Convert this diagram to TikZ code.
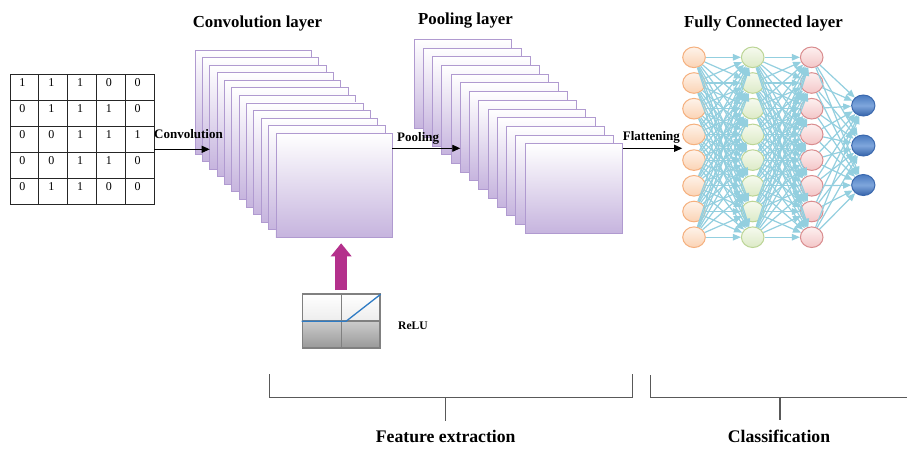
\documentclass[tikz,border=0pt]{standalone}
\usepackage{fontspec}
\setmainfont{Liberation Serif}
\usetikzlibrary{arrows.meta,shapes.geometric}
\definecolor{stackdraw}{HTML}{B09AD0}
\definecolor{stackfill}{HTML}{C6B4DE}
\definecolor{fcblue}{HTML}{93CFDF}
\definecolor{odraw}{HTML}{F5B07E}
\definecolor{otop}{HTML}{FEF3EA}
\definecolor{obot}{HTML}{FBD3B4}
\definecolor{gdraw}{HTML}{BBD595}
\definecolor{gtop}{HTML}{F6FAEF}
\definecolor{gbot}{HTML}{DCEAC6}
\definecolor{pdraw}{HTML}{D98C8E}
\definecolor{ptop}{HTML}{FDF0F0}
\definecolor{pbot}{HTML}{F3C6C7}
\definecolor{bdraw}{HTML}{3A68AE}
\definecolor{btop}{HTML}{4A7BC0}
\definecolor{bmid}{HTML}{7FA6DC}
\definecolor{bbot}{HTML}{3563AA}
\definecolor{relublue}{HTML}{2E7BC4}
\definecolor{relumag}{HTML}{B4308C}
\begin{document}
\begin{tikzpicture}[x=1pt,y=-1pt,
  cell/.style={draw=black!85,line width=0.8pt,minimum width=28.8pt,minimum height=26pt,inner sep=0,outer sep=0,anchor=north west},
  digit/.style={font=\fontsize{12}{14}\selectfont,inner sep=0},
  layerbox/.style={draw=stackdraw,line width=0.9pt,top color=white,bottom color=stackfill,inner sep=0,outer sep=0,anchor=north west},
  title/.style={font=\bfseries\fontsize{16.8}{20}\selectfont,anchor=base,inner sep=0},
  small/.style={font=\bfseries\fontsize{13}{15}\selectfont,anchor=base west,inner sep=0},
  big/.style={font=\bfseries\fontsize{17.7}{20}\selectfont,anchor=base,inner sep=0},
  arr/.style={-{Triangle[length=8pt,width=7pt]},line width=0.9pt,black},
  neuron/.style={ellipse,minimum width=22.6pt,minimum height=20.6pt,inner sep=0,line width=1pt},
  fc/.style={draw=fcblue,line width=1.2pt,-{Triangle[length=8pt,width=6.5pt]}},
  bracket/.style={draw=black!65,line width=1.2pt}
]
\useasboundingbox (0,0) rectangle (907,448);
\fill[white] (0,0) rectangle (907,448);

% input matrix
\foreach \r in {0,...,4}
  \foreach \c in {0,...,4}
    \node[cell] (m\r\c) at (10+28.8*\c,74+26*\r) {};
\foreach \row [count=\r from 0] in {{1,1,1,0,0},{0,1,1,1,0},{0,0,1,1,1},{0,0,1,1,0},{0,1,1,0,0}}
  \foreach \v [count=\c from 0] in \row
    \node[digit] (d\r\c) at (10+28.8*\c+12.5,74+26*\r+9) {\v};

% convolution stack
\foreach \i in {0,...,11}
  \node[layerbox,minimum width=116.5pt,minimum height=104pt] (conv\i) at (195+7.36*\i,50+7.57*\i) {};
% pooling stack
\foreach \i in {0,...,12}
  \node[layerbox,minimum width=97.7pt,minimum height=89.3pt] (pool\i) at (414+9.25*\i,39.3+8.72*\i) {};

% titles
\node[title] (tconv) at (257.5,27.3) {Convolution layer};
\node[title] (tpool) at (465.5,24) {Pooling layer};
\node[title] (tfc) at (763.5,27.3) {Fully Connected layer};

% fully connected network
\foreach \i in {0,...,7} {
  \node[neuron,draw=odraw,top color=otop,bottom color=obot] (o\i) at (694,57.3+25.7*\i) {};
  \node[neuron,draw=gdraw,top color=gtop,bottom color=gbot] (g\i) at (752.7,57.3+25.7*\i) {};
  \node[neuron,draw=pdraw,top color=ptop,bottom color=pbot] (p\i) at (811.7,57.3+25.7*\i) {};
}
\foreach \i/\yy in {0/105.5,1/145.5,2/185}
  \node[neuron,minimum width=23.3pt,minimum height=21pt,draw=bdraw,top color=btop,bottom color=bbot,middle color=bmid] (b\i) at (863.3,\yy) {};
\foreach \i in {0,...,7}
  \foreach \j in {0,...,7} {
    \draw[fc] (o\i) -- (g\j);
    \draw[fc] (g\i) -- (p\j);
  }
\foreach \i in {0,...,7}
  \foreach \j in {0,...,2}
    \draw[fc] (p\i) -- (b\j);

% flow arrows and labels
\coordinate (cy) at (0,149.3);
\coordinate (py) at (0,148.3);
\draw[arr] (m24.east |- cy) -- (conv2.west |- cy);
\draw[arr] (conv11.east |- py) -- (pool5.west |- py);
\draw[arr] (pool12.east |- py) -- (o3.west |- py);
\node[small] (lconv) at (154,138.3) {Convolution};
\node[small] (lpool) at (397,141) {Pooling};
\node[small] (lflat) at (622.7,140) {Flattening};

% ReLU
\node[draw=black!50,line width=1.3pt,minimum width=77.6pt,minimum height=54pt,anchor=north west,inner sep=0,
  path picture={
    \fill[top color=white,bottom color=black!14] (path picture bounding box.north west) rectangle (path picture bounding box.east);
    \fill[top color=black!20,bottom color=black!40] (path picture bounding box.west) rectangle (path picture bounding box.south east);
  }] (relu) at (301.7,293.3) {};
\draw[draw=black!50,line width=1.1pt] (relu.north) -- (relu.south);
\draw[draw=black!50,line width=1.1pt] (relu.west) -- (relu.east);
\coordinate (rk) at (346,321.3);
\draw[relublue,line width=1.3pt] (relu.west |- rk) -- (rk) -- ([yshift=-1pt]relu.north east);
\node[font=\bfseries\fontsize{11.6}{14}\selectfont,anchor=base west,inner sep=0] (lrelu) at (398,329.3) {ReLU};
\draw[relumag,line width=12.5pt,-{Triangle[length=13pt,width=20pt]},shorten <=3.3pt,shorten >=6pt]
  (relu.north) -- (relu.north |- conv11.south);

% brackets
\coordinate (fl) at (269.3,374);
\coordinate (fr) at (632.3,374);
\coordinate (fm) at (445.7,397.3);
\coordinate (ft) at (445.7,420.7);
\draw[bracket] (fl) -- (fl |- fm) -- (fr |- fm) -- (fr);
\draw[bracket] (fm) -- (ft);
\node[big] (fe) at (445.7,442.5) {Feature extraction};
\coordinate (cl0) at (650.7,375);
\coordinate (cm) at (780,397.7);
\coordinate (ct) at (780,420.4);
\coordinate (cr) at (912,397.7);
\draw[bracket] (cl0) -- (cl0 |- cm) -- (cr);
\draw[bracket] (cm) -- (ct);
\node[big] (cl) at (779,442.5) {Classification};
\end{tikzpicture}
\end{document}
